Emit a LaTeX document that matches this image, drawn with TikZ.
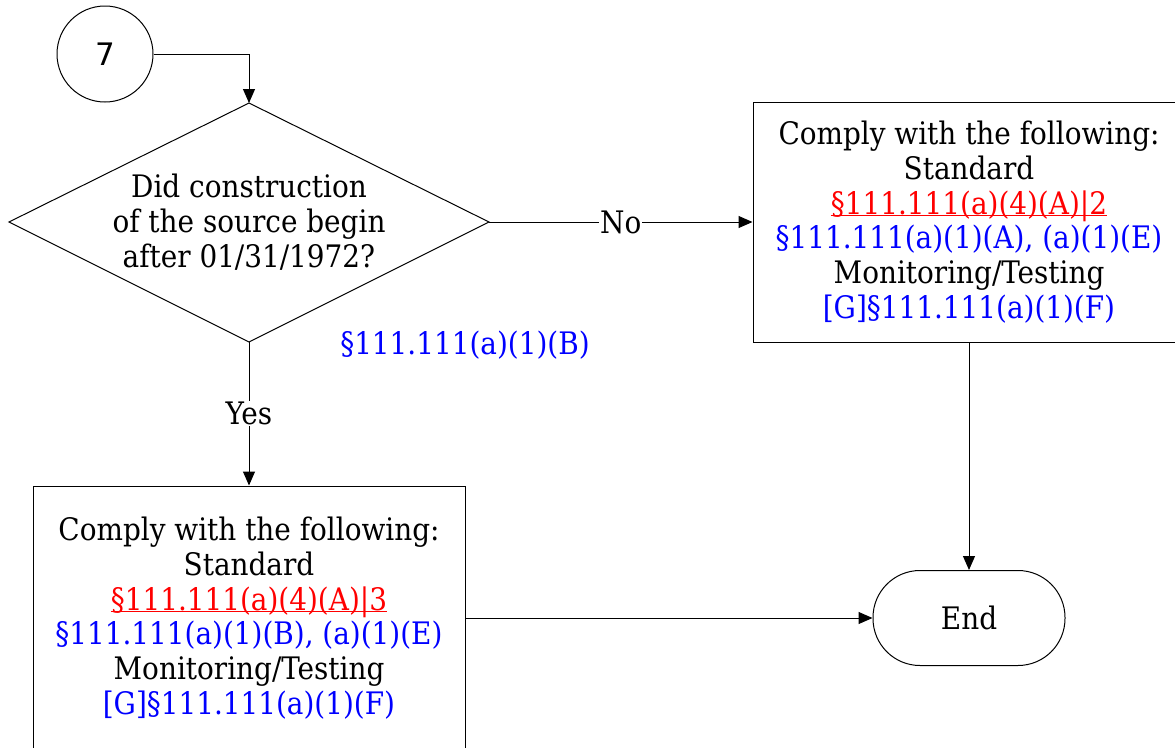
\documentclass[tikz,border=0pt]{standalone}
\usepackage{fontspec}
\setmainfont{DejaVu Serif Condensed}
\setsansfont{DejaVu Sans}
\usetikzlibrary{arrows.meta}
\begin{document}
\begin{tikzpicture}[
            x=1pt, y=-1pt,
            line width=1pt,
            font=\fontsize{31}{34.7}\selectfont,
            every node/.style={align=center},
            stepbox/.style={draw, minimum width=432pt, minimum height=240pt, inner sep=0pt},
            flow/.style={-{Triangle[length=14pt,width=12pt]}},
            cite/.style={text=blue},
        ]
            \useasboundingbox (0,0) rectangle (1175,747);
            \clip (0,0) rectangle (1175,747);

            \node[circle, draw, minimum size=96pt, inner sep=0pt] (start) at (105,54) {\sffamily 7};

            % 菱形判断框
            \coordinate (dtop) at (249,103);
            \coordinate (dbot) at (249,342);
            \coordinate (dleft) at (9,222);
            \coordinate (dright) at (489,222);
            \draw (dtop) -- (dright) -- (dbot) -- (dleft) -- cycle;
            \node (decide) at (249,222) {Did construction\\of the source begin\\after 01/31/1972?};
            \node[cite] (citeB) at (465,345) {§111.111(a)(1)(B)};

            % 右侧方框 (No)
            \node[stepbox] (boxno) at (969,222)
                {Comply with the following:\\Standard\\
                 \textcolor{red}{\underline{\smash{§111.111(a)(4)(A)|2}}}\\
                 \textcolor{blue}{§111.111(a)(1)(A), (a)(1)(E)}\\
                 Monitoring/Testing\\
                 \textcolor{blue}{[G]§111.111(a)(1)(F)}};

            % 左侧方框 (Yes)
            \node[stepbox, minimum height=264pt] (boxyes) at (249,618)
                {Comply with the following:\\Standard\\
                 \textcolor{red}{\underline{\smash{§111.111(a)(4)(A)|3}}}\\
                 \textcolor{blue}{§111.111(a)(1)(B), (a)(1)(E)}\\
                 Monitoring/Testing\\
                 \textcolor{blue}{[G]§111.111(a)(1)(F)}};

            \node[draw, rounded corners=47pt, minimum width=192pt, minimum height=95pt] (stop) at (969,618) {End};

            \draw[flow] (start.east) -| (dtop);
            \draw[flow] (dright) -- node[fill=white, inner sep=1pt] {No} (boxno.west);
            \draw[flow] (dbot) -- node[fill=white, inner sep=1pt] {Yes} (boxyes.north);
            \draw[flow] (boxyes.east |- stop.west) -- (stop.west);
            \draw[flow] (boxno.south) -- (stop.north);
        \end{tikzpicture}
\end{document}
